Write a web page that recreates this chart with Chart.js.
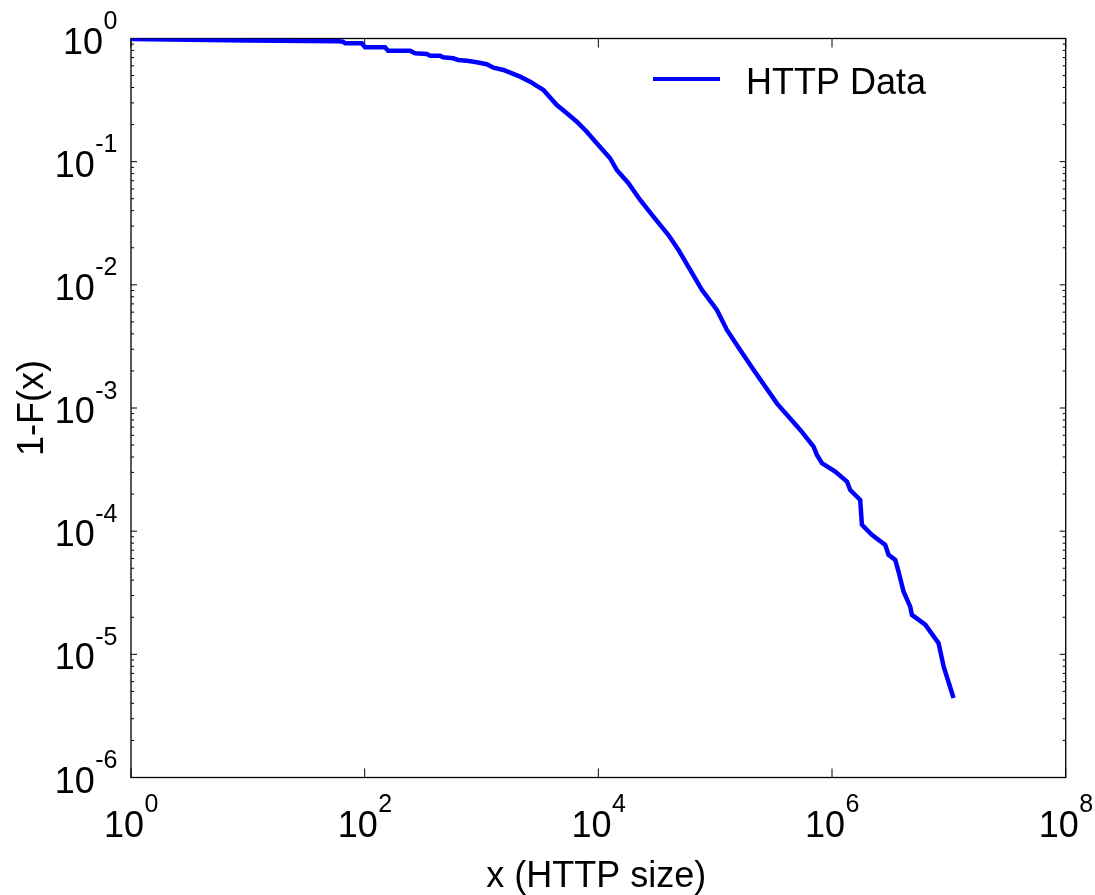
<!DOCTYPE html>
<html>
<head>
<meta charset="utf-8">
<script src="https://cdn.jsdelivr.net/npm/chart.js@4.4.1/dist/chart.umd.min.js"></script>
<style>
  html, body { margin: 0; padding: 0; background: #fff; }
  canvas { display: block; }
</style>
</head>
<body>
<canvas id="c" width="1095" height="895"></canvas>
<script>
// ---- data ----
const seriesLabel = "HTTP Data";
const xValues = [1, 10, 60, 65.3, 68, 94.5, 100.8, 149.5, 158.6, 244.7, 270, 340, 363,
  442, 469, 571, 631, 749, 912, 1110, 1265, 1541, 1758,
  2138, 2607, 3388, 4414, 5376, 6546, 7960, 9690, 12600, 14380,
  18100, 22800, 29600, 39800, 48500, 61100, 76900, 103400, 126000, 163700,
  212800, 337500, 535000, 695000, 743000, 820000, 1065000, 1342000, 1432000, 1743000,
  1803000, 2194000, 2851000, 3047000, 3475000, 3708000, 4093000, 4668000, 4828000, 6281000,
  8166000, 9016000, 10970000];
const yValues = [0.99, 0.965, 0.95, 0.942, 0.914, 0.914, 0.848, 0.848, 0.796, 0.796, 0.758, 0.748, 0.725,
  0.725, 0.704, 0.691, 0.669, 0.660, 0.641, 0.618, 0.579, 0.555, 0.528,
  0.490, 0.446, 0.382, 0.288, 0.247, 0.211, 0.175, 0.141, 0.1066, 0.0857,
  0.0668, 0.0489, 0.0358, 0.0254, 0.0192, 0.0132, 0.0091, 0.00625, 0.0043, 0.00296,
  0.00204, 0.00109, 0.000664, 0.000486, 0.000416, 0.000356, 0.000305, 0.000253, 0.000216, 0.000179,
  0.0001125, 0.0000933, 0.0000774, 0.0000643, 0.0000585, 0.000047, 0.0000324, 0.0000244, 0.0000209, 0.0000174,
  0.0000123, 0.00000796, 0.00000442];
const xTickExponents = [0, 2, 4, 6, 8];
const yTickExponents = [0, -1, -2, -3, -4, -5, -6];
const xTitle = "x (HTTP size)";
const yTitle = "1-F(x)";

const FONT = '"Liberation Sans", Arial, Helvetica, sans-serif';

const points = xValues.map((v, i) => ({ x: v, y: yValues[i] }));

function seg(ctx, x1, y1, x2, y2) {
  ctx.beginPath(); ctx.moveTo(x1, y1); ctx.lineTo(x2, y2); ctx.stroke();
}

function powLabelWidth(ctx, exp) {
  ctx.font = '36px ' + FONT;
  const w1 = ctx.measureText('10').width;
  ctx.font = '25px ' + FONT;
  const w2 = ctx.measureText(String(exp)).width;
  return [w1, w2];
}
function drawPow(ctx, left, baseline, exp) {
  const [w1] = powLabelWidth(ctx, exp);
  ctx.textAlign = 'left';
  ctx.textBaseline = 'alphabetic';
  ctx.font = '36px ' + FONT;
  ctx.fillText('10', left, baseline);
  ctx.font = '25px ' + FONT;
  ctx.fillText(String(exp), left + w1 + 0.5, baseline - 24.5);
}

const matlabAxes = {
  id: 'matlabAxes',
  beforeDatasetsDraw(chart) {
    const { ctx, chartArea: a, scales: { x, y } } = chart;
    ctx.save();
    ctx.strokeStyle = '#000';
    ctx.lineWidth = 1.3;
    ctx.strokeRect(a.left, a.top, a.right - a.left, a.bottom - a.top);
    ctx.lineWidth = 1;
    xTickExponents.forEach(e => {
      const px = x.getPixelForValue(Math.pow(10, e));
      seg(ctx, px, a.bottom, px, a.bottom - 9);
      seg(ctx, px, a.top, px, a.top + 9);
    });
    yTickExponents.forEach(e => {
      const py = y.getPixelForValue(Math.pow(10, e));
      seg(ctx, a.left, py, a.left + 6, py);
      seg(ctx, a.right, py, a.right - 6, py);
      if (e < 0) {
        for (let k = 2; k <= 9; k++) {
          const v = k * Math.pow(10, e);
          const pm = y.getPixelForValue(v);
          seg(ctx, a.left, pm, a.left + 3, pm);
          seg(ctx, a.right, pm, a.right - 3, pm);
        }
      }
    });
    ctx.restore();
  },
  afterDraw(chart) {
    const { ctx, chartArea: a, scales: { x, y } } = chart;
    ctx.save();
    ctx.fillStyle = '#000';
    // x tick labels
    xTickExponents.forEach(e => {
      const px = x.getPixelForValue(Math.pow(10, e));
      const [w1, w2] = powLabelWidth(ctx, e);
      drawPow(ctx, px - (w1 + w2) / 2, a.bottom + 59, e);
    });
    // y tick labels
    yTickExponents.forEach(e => {
      const py = y.getPixelForValue(Math.pow(10, e));
      const [w1, w2] = powLabelWidth(ctx, e);
      drawPow(ctx, a.left - 14 - (w1 + w2), py + 15, e);
    });
    // axis titles
    ctx.font = '36px ' + FONT;
    ctx.textAlign = 'center';
    ctx.textBaseline = 'alphabetic';
    ctx.fillText(xTitle, (a.left + a.right) / 2 - 2, 887);
    ctx.save();
    ctx.translate(43, (a.top + a.bottom) / 2);
    ctx.rotate(-Math.PI / 2);
    ctx.fillText(yTitle, 0, 0);
    ctx.restore();
    // legend
    const ds = chart.data.datasets[0];
    ctx.strokeStyle = ds.borderColor;
    ctx.lineWidth = 4;
    seg(ctx, a.left + 522, a.top + 40.5, a.left + 589, a.top + 40.5);
    ctx.font = '36px ' + FONT;
    ctx.textAlign = 'left';
    ctx.fillText(ds.label, a.left + 615, a.top + 55);
    ctx.restore();
  }
};

new Chart(document.getElementById('c'), {
  type: 'line',
  data: {
    datasets: [{
      label: seriesLabel,
      data: points,
      borderColor: '#0000ff',
      backgroundColor: '#0000ff',
      borderWidth: 4.5,
      pointRadius: 0,
      tension: 0,
      fill: false
    }]
  },
  options: {
    responsive: false,
    animation: false,
    layout: { padding: { left: 0, right: 29.3, top: 38.5, bottom: 0 } },
    plugins: { legend: { display: false }, tooltip: { enabled: false } },
    scales: {
      x: {
        type: 'logarithmic',
        min: 1, max: 1e8,
        grid: { display: false },
        border: { display: false },
        ticks: { display: false },
        afterFit(s) { s.height = 117.5; }
      },
      y: {
        type: 'logarithmic',
        min: 1e-6, max: 1,
        grid: { display: false },
        border: { display: false },
        ticks: { display: false },
        afterFit(s) { s.width = 131; }
      }
    }
  },
  plugins: [matlabAxes]
});
</script>
</body>
</html>
